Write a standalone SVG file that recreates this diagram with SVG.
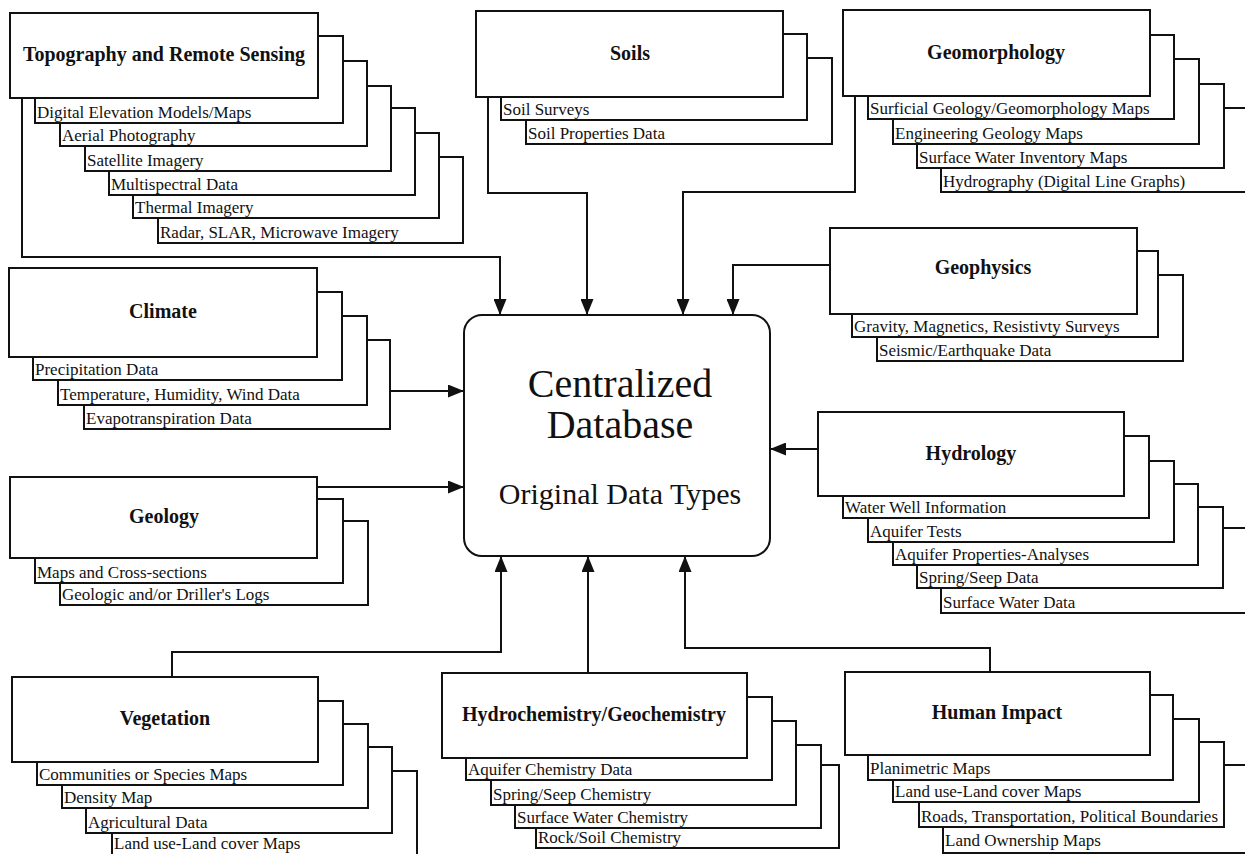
<svg xmlns="http://www.w3.org/2000/svg" width="1245" height="854" viewBox="0 0 1245 854">
<style>
.bg{fill:#fff}
.box{fill:#fff;stroke:#111;stroke-width:2}
.title{font-family:"Liberation Serif","Times New Roman",serif;font-weight:bold;font-size:20px;text-anchor:middle;fill:#111}
.item{font-family:"Liberation Serif","Times New Roman",serif;font-size:17px;fill:#111}
.conn{fill:none;stroke:#111;stroke-width:2}
.db{fill:#fff;stroke:#111;stroke-width:2}
.dbt{font-family:"Liberation Serif","Times New Roman",serif;text-anchor:middle;fill:#111}
</style>
<defs>
<marker id="arr" markerUnits="userSpaceOnUse" markerWidth="16" markerHeight="13" refX="16" refY="6.5" orient="auto">
<path d="M0,0 L16,6.5 L0,13 z" fill="#111"/>
</marker>
</defs>
<rect class="bg" x="0" y="0" width="1245" height="854"/>

<g id="database">
<rect class="db" x="464" y="315" width="306" height="241" rx="18"/>
<text class="dbt" x="620" y="397" font-size="40">Centralized</text>
<text class="dbt" x="620" y="438" font-size="40">Database</text>
<text class="dbt" x="620" y="504" font-size="30">Original Data Types</text>
</g>

<g id="connectors">
<path class="conn" d="M22 98 V257 H500 V315" marker-end="url(#arr)"/>
<path class="conn" d="M488 97 V193 H587 V315" marker-end="url(#arr)"/>
<path class="conn" d="M855 96 V192 H683 V315" marker-end="url(#arr)"/>
<path class="conn" d="M830 265 H733 V315" marker-end="url(#arr)"/>
<path class="conn" d="M390 391 H464" marker-end="url(#arr)"/>
<path class="conn" d="M317 487 H464" marker-end="url(#arr)"/>
<path class="conn" d="M818 449 H770" marker-end="url(#arr)"/>
<path class="conn" d="M172 677 V652 H501 V556" marker-end="url(#arr)"/>
<path class="conn" d="M588 673 V556" marker-end="url(#arr)"/>
<path class="conn" d="M990 672 V648 H685 V556" marker-end="url(#arr)"/>
</g>

<g id="topography">
<rect class="box" x="158" y="157" width="305" height="86"/><text class="item" x="160" y="238">Radar, SLAR, Microwave Imagery</text>
<rect class="box" x="133" y="133" width="306" height="85"/><text class="item" x="135" y="213">Thermal Imagery</text>
<rect class="box" x="109" y="108" width="306" height="87"/><text class="item" x="111" y="190">Multispectral Data</text>
<rect class="box" x="85" y="86" width="306" height="85"/><text class="item" x="87" y="166">Satellite Imagery</text>
<rect class="box" x="60" y="61" width="307" height="85"/><text class="item" x="62" y="141">Aerial Photography</text>
<rect class="box" x="35" y="36" width="308" height="87"/><text class="item" x="37" y="118">Digital Elevation Models/Maps</text>
<rect class="box" x="10" y="13" width="308" height="85"/><text class="title" x="164" y="61">Topography and Remote Sensing</text>
</g>

<g id="soils">
<rect class="box" x="526" y="58" width="306" height="86"/><text class="item" x="528" y="139">Soil Properties Data</text>
<rect class="box" x="501" y="34" width="306" height="86"/><text class="item" x="503" y="115">Soil Surveys</text>
<rect class="box" x="476" y="11" width="307" height="86"/><text class="title" x="630" y="60">Soils</text>
</g>

<g id="geomorphology">
<rect class="box" x="941" y="108" width="309" height="84"/><text class="item" x="943" y="187">Hydrography (Digital Line Graphs)</text>
<rect class="box" x="917" y="84" width="307" height="84"/><text class="item" x="919" y="163">Surface Water Inventory Maps</text>
<rect class="box" x="893" y="59" width="306" height="85"/><text class="item" x="895" y="139">Engineering Geology Maps</text>
<rect class="box" x="868" y="35" width="306" height="84"/><text class="item" x="870" y="114">Surficial Geology/Geomorphology Maps</text>
<rect class="box" x="843" y="10" width="307" height="86"/><text class="title" x="996" y="59">Geomorphology</text>
</g>

<g id="climate">
<rect class="box" x="84" y="340" width="306" height="89"/><text class="item" x="86" y="424">Evapotranspiration Data</text>
<rect class="box" x="58" y="316" width="309" height="89"/><text class="item" x="60" y="400">Temperature, Humidity, Wind Data</text>
<rect class="box" x="33" y="292" width="309" height="88"/><text class="item" x="35" y="375">Precipitation Data</text>
<rect class="box" x="9" y="268" width="308" height="89"/><text class="title" x="163" y="318">Climate</text>
</g>

<g id="geophysics">
<rect class="box" x="877" y="275" width="306" height="86"/><text class="item" x="879" y="356">Seismic/Earthquake Data</text>
<rect class="box" x="852" y="251" width="306" height="86"/><text class="item" x="854" y="332">Gravity, Magnetics, Resistivty Surveys</text>
<rect class="box" x="830" y="228" width="307" height="86"/><text class="title" x="983" y="274">Geophysics</text>
</g>

<g id="geology">
<rect class="box" x="60" y="521" width="308" height="84"/><text class="item" x="62" y="600">Geologic and/or Driller's Logs</text>
<rect class="box" x="35" y="499" width="308" height="84"/><text class="item" x="37" y="578">Maps and Cross-sections</text>
<rect class="box" x="10" y="477" width="307" height="81"/><text class="title" x="164" y="523">Geology</text>
</g>

<g id="hydrology">
<rect class="box" x="941" y="528" width="309" height="85"/><text class="item" x="943" y="608">Surface Water Data</text>
<rect class="box" x="917" y="507" width="306" height="81"/><text class="item" x="919" y="583">Spring/Seep Data</text>
<rect class="box" x="893" y="484" width="305" height="81"/><text class="item" x="895" y="560">Aquifer Properties-Analyses</text>
<rect class="box" x="868" y="461" width="306" height="81"/><text class="item" x="870" y="537">Aquifer Tests</text>
<rect class="box" x="843" y="436" width="306" height="82"/><text class="item" x="845" y="513">Water Well Information</text>
<rect class="box" x="818" y="412" width="306" height="84"/><text class="title" x="971" y="460">Hydrology</text>
</g>

<g id="vegetation">
<rect class="box" x="112" y="771" width="305" height="87"/><text class="item" x="114" y="849">Land use-Land cover Maps</text>
<rect class="box" x="86" y="747" width="306" height="86"/><text class="item" x="88" y="828">Agricultural Data</text>
<rect class="box" x="62" y="724" width="306" height="84"/><text class="item" x="64" y="803">Density Map</text>
<rect class="box" x="37" y="701" width="306" height="84"/><text class="item" x="39" y="780">Communities or Species Maps</text>
<rect class="box" x="12" y="677" width="306" height="85"/><text class="title" x="165" y="725">Vegetation</text>
</g>

<g id="hydrochemistry">
<rect class="box" x="536" y="765" width="303" height="83"/><text class="item" x="538" y="843">Rock/Soil Chemistry</text>
<rect class="box" x="515" y="745" width="306" height="83"/><text class="item" x="517" y="823">Surface Water Chemistry</text>
<rect class="box" x="491" y="721" width="305" height="84"/><text class="item" x="493" y="800">Spring/Seep Chemistry</text>
<rect class="box" x="466" y="697" width="306" height="83"/><text class="item" x="468" y="775">Aquifer Chemistry Data</text>
<rect class="box" x="442" y="673" width="305" height="85"/><text class="title" x="594" y="721">Hydrochemistry/Geochemistry</text>
</g>

<g id="human-impact">
<rect class="box" x="943" y="765" width="307" height="88"/><text class="item" x="945" y="846">Land Ownership Maps</text>
<rect class="box" x="919" y="742" width="305" height="85"/><text class="item" x="921" y="822">Roads, Transportation, Political Boundaries</text>
<rect class="box" x="893" y="719" width="306" height="83"/><text class="item" x="895" y="797">Land use-Land cover Maps</text>
<rect class="box" x="868" y="695" width="305" height="85"/><text class="item" x="870" y="774">Planimetric Maps</text>
<rect class="box" x="845" y="672" width="305" height="83"/><text class="title" x="997" y="719">Human Impact</text>
</g>
</svg>
